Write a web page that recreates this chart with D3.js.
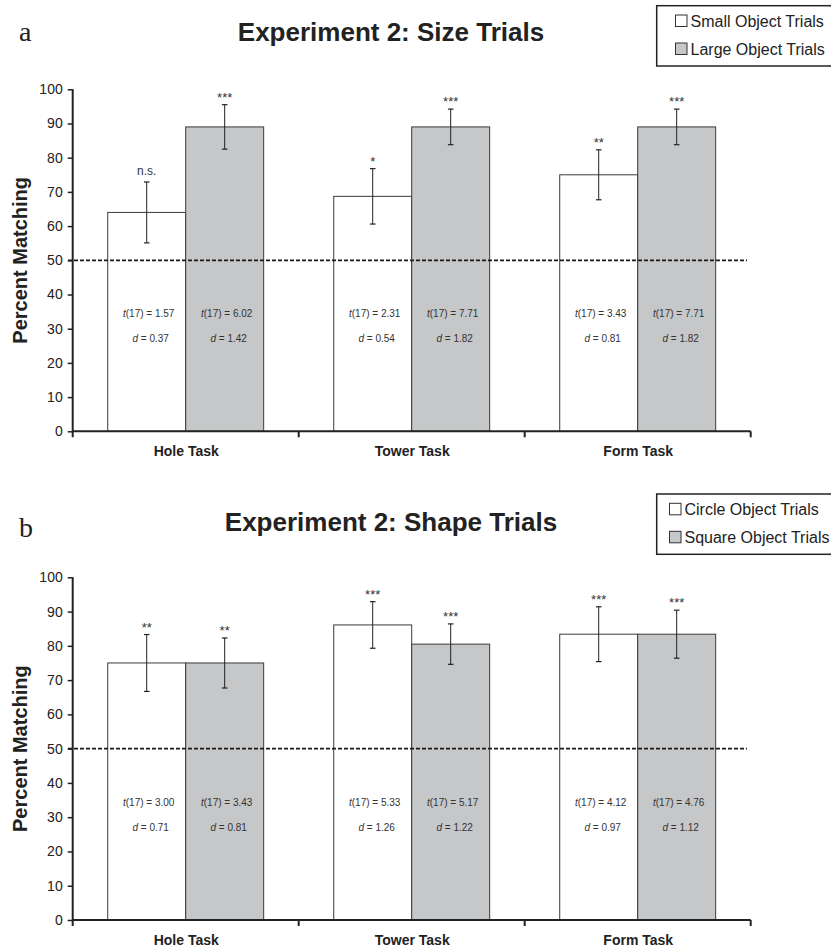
<!DOCTYPE html>
<html><head><meta charset="utf-8">
<script src="https://cdn.jsdelivr.net/npm/d3@7"></script>
<style>body{margin:0;background:#fff}svg{display:block}</style>
</head><body>
<svg id="chart" width="831" height="951"></svg>
<script>
// ---------- data ----------
const categories = ["Hole Task", "Tower Task", "Form Task"];
const yTicks = [0, 10, 20, 30, 40, 50, 60, 70, 80, 90, 100];
const chanceLevel = 50;

// Panel a: Size trials
const sizeSeries = ["Small Object Trials", "Large Object Trials"];
const sizeSmallMeans = [64.0, 68.7, 75.0];
const sizeSmallErr = [8.9, 8.1, 7.3];
const sizeLargeMeans = [89.0, 89.0, 89.0];
const sizeLargeErr = [6.5, 5.2, 5.2];
const sizeSmallSig = ["n.s.", "*", "**"];
const sizeLargeSig = ["***", "***", "***"];
const sizeSmallT = ["1.57", "2.31", "3.43"];
const sizeSmallD = ["0.37", "0.54", "0.81"];
const sizeLargeT = ["6.02", "7.71", "7.71"];
const sizeLargeD = ["1.42", "1.82", "1.82"];

// Panel b: Shape trials
const shapeSeries = ["Circle Object Trials", "Square Object Trials"];
const circleMeans = [75.0, 86.1, 83.4];
const circleErr = [8.3, 6.8, 8.0];
const squareMeans = [75.0, 80.5, 83.4];
const squareErr = [7.3, 5.9, 7.0];
const circleSig = ["**", "***", "***"];
const squareSig = ["**", "***", "***"];
const circleT = ["3.00", "5.33", "4.12"];
const circleD = ["0.71", "1.26", "0.97"];
const squareT = ["3.43", "5.17", "4.76"];
const squareD = ["0.81", "1.22", "1.12"];

// ---------- drawing ----------
const svg = d3.select("#chart");
const FONT = "Liberation Sans, Arial, Helvetica, sans-serif";
const fills = ["#ffffff", "#c6c7c9"];

function buildRows(series, means, errs, sigs, ts, ds) {
  return categories.map((c, i) => series.map((s, k) => ({
    cat: c, series: s, k: k, mean: means[k][i], err: errs[k][i],
    sig: sigs[k][i], t: ts[k][i], d: ds[k][i]
  })));
}

function drawPanel(o) {
  const g = svg.append("g");
  const x = d3.scaleBand().domain(categories).range([72.7, 750.7]).padding(0);
  const xi = d3.scaleBand().domain(o.series)
    .range([x.bandwidth() * 0.155, x.bandwidth() * 0.845]).padding(0);
  const y = d3.scaleLinear().domain([0, 100]).range([o.y0, o.y100]);

  // panel letter
  g.append("text").attr("x", 19).attr("y", o.letterY)
    .attr("font-family", "Liberation Serif, Times New Roman, serif")
    .attr("font-size", 28).attr("fill", "#222").text(o.letter);

  // title
  g.append("text").attr("x", 391).attr("y", o.titleY).attr("text-anchor", "middle")
    .attr("font-family", FONT).attr("font-weight", "bold").attr("font-size", 26)
    .attr("fill", "#222").text(o.title);

  // legend
  const lg = g.append("g");
  lg.append("rect").attr("x", 656.7).attr("y", o.legendTop).attr("width", 180).attr("height", 60.3)
    .attr("fill", "#fff").attr("stroke", "#222").attr("stroke-width", 1.5);
  o.series.forEach((s, k) => {
    const cy = o.legendTop + 15.3 + k * 28;
    lg.append("rect").attr("x", o.legendX).attr("y", cy - 6).attr("width", 11.5).attr("height", 11.5)
      .attr("fill", fills[k]).attr("stroke", "#333").attr("stroke-width", 1);
    lg.append("text").attr("x", o.legendX + 15).attr("y", cy + 5.8)
      .attr("font-family", FONT).attr("font-size", 16).attr("fill", "#222").text(s);
  });

  const rows = buildRows(o.series, o.means, o.errs, o.sigs, o.ts, o.ds);

  // bars
  const groups = g.selectAll("g.cat").data(rows).join("g")
    .attr("transform", (d, i) => `translate(${x(categories[i])},0)`);
  groups.selectAll("rect").data(d => d).join("rect")
    .attr("x", d => xi(d.series)).attr("width", xi.bandwidth())
    .attr("y", d => y(d.mean)).attr("height", d => y(0) - y(d.mean))
    .attr("fill", d => fills[d.k]).attr("stroke", "#3a3a3a").attr("stroke-width", 1);

  // chance line
  g.append("line").attr("x1", 68).attr("x2", 747).attr("y1", y(chanceLevel)).attr("y2", y(chanceLevel))
    .attr("stroke", "#1a1a1a").attr("stroke-width", 1.8).attr("stroke-dasharray", "4,2");

  // error bars
  const eb = groups.selectAll("g.err").data(d => d).join("g")
    .attr("transform", d => `translate(${xi(d.series) + xi.bandwidth() / 2},0)`);
  eb.append("line").attr("y1", d => y(d.mean + d.err)).attr("y2", d => y(d.mean - d.err))
    .attr("stroke", "#222").attr("stroke-width", 1);
  [1, -1].forEach(s => eb.append("line").attr("x1", -2.8).attr("x2", 2.8)
    .attr("y1", d => y(d.mean + s * d.err)).attr("y2", d => y(d.mean + s * d.err))
    .attr("stroke", "#222").attr("stroke-width", 1.2));

  // significance labels
  eb.append("text").attr("text-anchor", "middle")
    .attr("y", d => y(d.mean + d.err) - (d.sig === "n.s." ? 7 : 3))
    .attr("font-family", FONT).attr("font-size", d => d.sig === "n.s." ? 12 : 13)
    .attr("fill", "#333").text(d => d.sig);

  // statistics text
  const st = eb.append("text").attr("text-anchor", "middle").attr("x", 2)
    .attr("font-family", FONT).attr("font-size", 10).attr("fill", "#333");
  st.append("tspan").attr("y", d => y(34.3) + 3.5).attr("x", 2).attr("font-style", "italic").text("t");
  st.append("tspan").text(d => "(17) = " + d.t);
  const sd = eb.append("text").attr("text-anchor", "middle").attr("x", 4)
    .attr("font-family", FONT).attr("font-size", 10).attr("fill", "#333")
    .attr("y", d => y(27.0) + 3.5);
  sd.append("tspan").attr("font-style", "italic").text("d");
  sd.append("tspan").text(d => " = " + d.d);

  // y axis
  const ya = g.append("g").attr("transform", "translate(72.7,0)")
    .call(d3.axisLeft(y).tickValues(yTicks).tickSize(5).tickPadding(5));
  ya.select(".domain").attr("stroke", "#222").attr("stroke-width", 2)
    .attr("d", `M0,${y(100)}V${y(0) + 6}`);
  ya.selectAll(".tick line").attr("stroke", "#222").attr("stroke-width", 1.5);
  ya.selectAll(".tick text").attr("font-family", FONT).attr("font-size", 14).attr("fill", "#222");

  // x axis
  const xa = g.append("g").attr("transform", `translate(0,${y(0)})`)
    .call(d3.axisBottom(x).tickSize(0).tickPadding(15));
  xa.select(".domain").attr("stroke", "#222").attr("stroke-width", 2)
    .attr("d", `M72.7,0H750.7`);
  xa.selectAll(".tick text").attr("font-family", FONT).attr("font-weight", "bold")
    .attr("font-size", 14).attr("fill", "#222").attr("dy", "0.71em").attr("x", 0.5);
  const bounds = categories.map(c => x(c)).concat([x(categories[categories.length - 1]) + x.bandwidth()]);
  xa.selectAll("line.sep").data(bounds.slice(1)).join("line").attr("class", "sep")
    .attr("x1", d => d).attr("x2", d => d).attr("y1", 0).attr("y2", 6)
    .attr("stroke", "#222").attr("stroke-width", 2);

  // y label
  g.append("text")
    .attr("transform", `translate(27,${(y(0) + y(100)) / 2}) rotate(-90)`)
    .attr("text-anchor", "middle").attr("font-family", FONT).attr("font-weight", "bold")
    .attr("font-size", 20).attr("fill", "#222").text("Percent Matching");
}

drawPanel({
  letter: "a", letterY: 41, title: "Experiment 2: Size Trials", titleY: 41,
  legendTop: 5.7, legendX: 675.5, y0: 431.3, y100: 89.3, series: sizeSeries,
  means: [sizeSmallMeans, sizeLargeMeans], errs: [sizeSmallErr, sizeLargeErr],
  sigs: [sizeSmallSig, sizeLargeSig], ts: [sizeSmallT, sizeLargeT], ds: [sizeSmallD, sizeLargeD]
});
drawPanel({
  letter: "b", letterY: 537, title: "Experiment 2: Shape Trials", titleY: 531,
  legendTop: 494, legendX: 669.5, y0: 920, y100: 577.3, series: shapeSeries,
  means: [circleMeans, squareMeans], errs: [circleErr, squareErr],
  sigs: [circleSig, squareSig], ts: [circleT, squareT], ds: [circleD, squareD]
});
</script>
</body></html>
